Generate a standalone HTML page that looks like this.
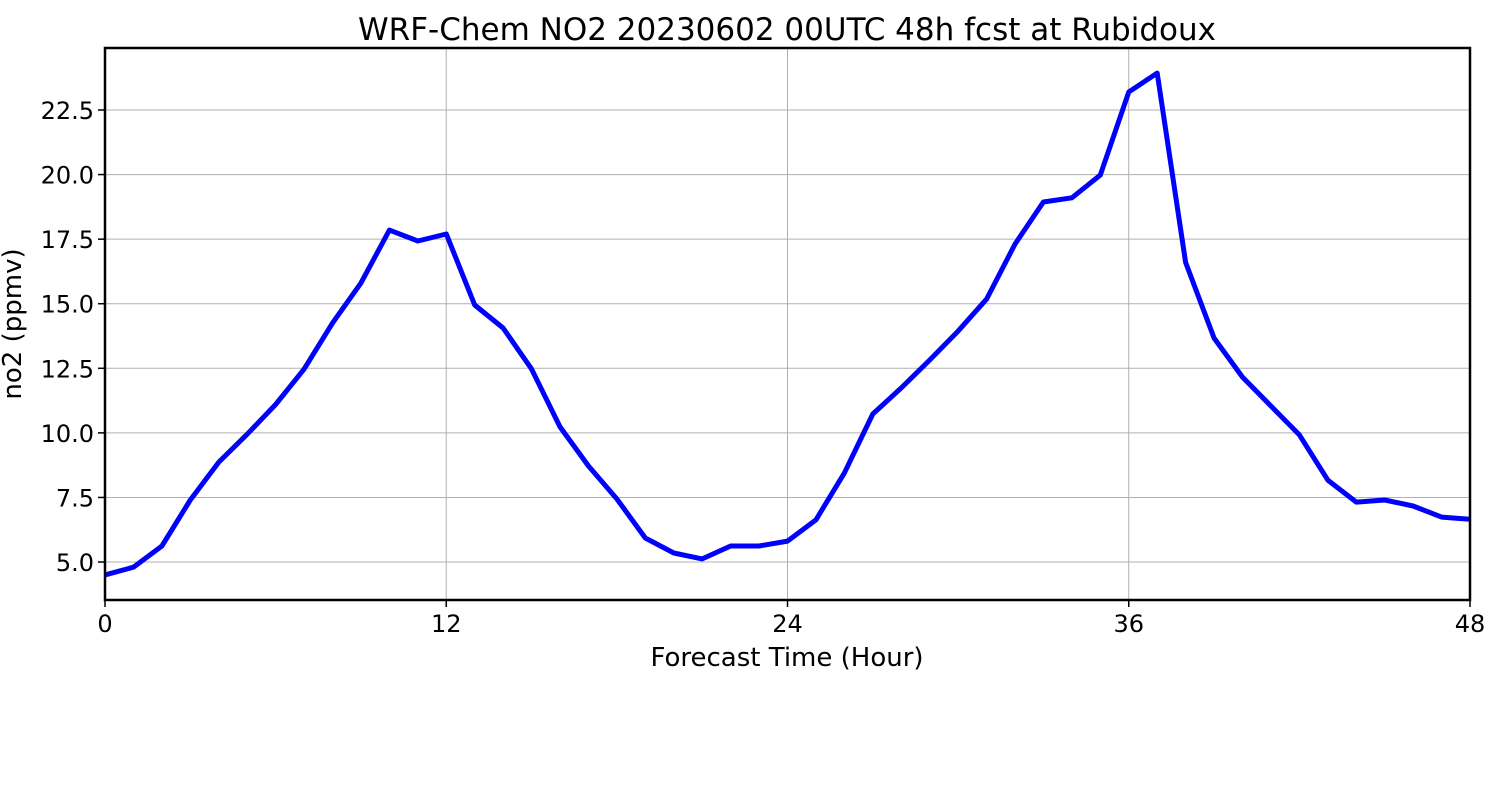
<!DOCTYPE html>
<html><head><meta charset="utf-8"><style>
body{margin:0;background:#fff;}
svg{display:block;font-family:"DejaVu Sans","Liberation Sans",sans-serif;}
</style></head><body>
<svg id="chart" width="1500" height="800" xmlns="http://www.w3.org/2000/svg">
<text x="787" y="40" font-size="31" text-anchor="middle">WRF-Chem NO2  20230602 00UTC 48h fcst at Rubidoux</text>
<g id="grid"></g>
<g id="axes"></g>
<text x="787" y="666" font-size="26" text-anchor="middle">Forecast Time (Hour)</text>
<text transform="translate(21,324) rotate(-90)" font-size="26" text-anchor="middle">no2  (ppmv)</text>
</svg>
<script>
const hours=[0,1,2,3,4,5,6,7,8,9,10,11,12,13,14,15,16,17,18,19,20,21,22,23,24,25,26,27,28,29,30,31,32,33,34,35,36,37,38,39,40,41,42,43,44,45,46,47,48];
const no2Values=[4.5,4.8,5.62,7.4,8.87,9.95,11.1,12.47,14.25,15.8,17.85,17.43,17.7,14.95,14.06,12.47,10.23,8.72,7.44,5.93,5.35,5.12,5.62,5.62,5.81,6.63,8.45,10.73,11.74,12.82,13.94,15.18,17.31,18.94,19.1,19.98,23.2,23.93,16.6,13.67,12.16,11.04,9.92,8.17,7.32,7.4,7.17,6.74,6.66];
const xTicks=[0,12,24,36,48];
const yTicks=[5.0,7.5,10.0,12.5,15.0,17.5,20.0,22.5];
const L=105,R=1470,T=48,B=600,xMin=0,xMax=48,yMin=3.53,yMax=24.9;
const xs=v=>L+(v-xMin)/(xMax-xMin)*(R-L);
const ys=v=>B-(v-yMin)/(yMax-yMin)*(B-T);
const NS="http://www.w3.org/2000/svg";
const svg=document.getElementById('chart'),grid=document.getElementById('grid'),axes=document.getElementById('axes');
function mk(tag,attrs,parent){const e=document.createElementNS(NS,tag);for(const k in attrs)e.setAttribute(k,attrs[k]);parent.appendChild(e);return e;}
xTicks.forEach(t=>{
  const g=mk('line',{x1:xs(t),x2:xs(t),y1:T,y2:B,stroke:'#b0b0b0','stroke-width':1},grid);
  
  
  const tk=mk('line',{x1:xs(t),x2:xs(t),y1:B,y2:B+7,stroke:'#000','stroke-width':1.5},axes);
  
  
  const tx=mk('text',{x:xs(t),y:B+32,'font-size':24,'text-anchor':'middle'},axes);
  tx.textContent=t;
  
  
});
yTicks.forEach(t=>{
  const g=mk('line',{x1:L,x2:R,y1:ys(t),y2:ys(t),stroke:'#b0b0b0','stroke-width':1},grid);
  
  
  const tk=mk('line',{x1:L-7,x2:L,y1:ys(t),y2:ys(t),stroke:'#000','stroke-width':1.5},axes);
  
  
  const tx=mk('text',{x:L-11,y:ys(t)+9,'font-size':24,'text-anchor':'end'},axes);
  tx.textContent=t.toFixed(1);
  
  
});
const pts=hours.map((h,i)=>xs(h).toFixed(1)+','+ys(no2Values[i]).toFixed(1)).join(' ');
const line=mk('polyline',{points:pts,fill:'none',stroke:'#0000ff','stroke-width':5,'stroke-linejoin':'round'},svg);


const frame=mk('rect',{x:L,y:T,width:R-L,height:B-T,fill:'none',stroke:'#000','stroke-width':2.5},svg);


</script>
</body></html>
